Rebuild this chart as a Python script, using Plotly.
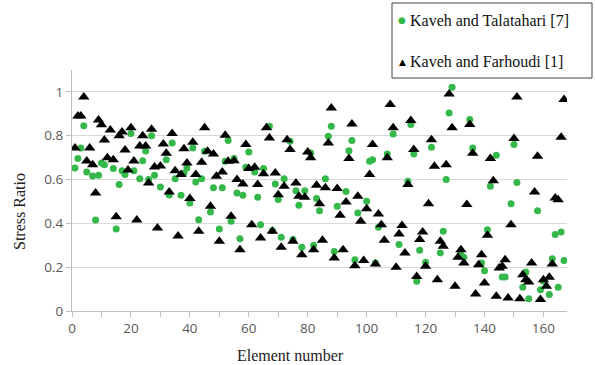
import plotly.graph_objects as go

# Kaveh and Farhoudi [1]: element number and stress ratio
farhoudi_elem = list(range(1, 168))
farhoudi_ratio = [
    0.744, 0.89, 0.89, 0.977, 0.685, 0.744, 0.667, 0.539, 0.872, 0.85,
    0.78, 0.70, 0.826, 0.69, 0.43, 0.80, 0.817, 0.735, 0.644, 0.836,
    0.685, 0.415, 0.753, 0.80, 0.753, 0.584, 0.83, 0.657, 0.379, 0.662,
    0.762, 0.72, 0.543, 0.81, 0.64, 0.342, 0.623, 0.741, 0.676, 0.513,
    0.77, 0.623, 0.364, 0.679, 0.836, 0.729, 0.478, 0.717, 0.615, 0.318,
    0.635, 0.802, 0.683, 0.432, 0.686, 0.60, 0.28, 0.58, 0.76, 0.65,
    0.394, 0.656, 0.577, 0.333, 0.627, 0.836, 0.79, 0.364, 0.63, 0.531,
    0.291, 0.569, 0.782, 0.737, 0.318, 0.584, 0.524, 0.257, 0.519, 0.726,
    0.699, 0.28, 0.574, 0.489, 0.323, 0.562, 0.767, 0.927, 0.242, 0.559,
    0.437, 0.28, 0.498, 0.696, 0.854, 0.207, 0.524, 0.41, 0.23, 0.467,
    0.623, 0.76, 0.215, 0.443, 0.394, 0.323, 0.699, 0.942, 0.836, 0.20,
    0.352, 0.39, 0.265, 0.577, 0.869, 0.737, 0.158, 0.326, 0.361, 0.204,
    0.489, 0.782, 0.661, 0.143, 0.318, 0.295, 0.668, 0.991, 0.836, 0.113,
    0.245, 0.28, 0.219, 0.486, 0.851, 0.72, 0.078, 0.211, 0.257, 0.128,
    0.346, 0.696, 0.595, 0.067, 0.196, 0.204, 0.234, 0.059, 0.394, 0.787,
    0.977, 0.056, 0.166, 0.143, 0.132, 0.219, 0.543, 0.706, 0.052, 0.143,
    0.113, 0.154, 0.215, 0.516, 0.508, 0.793, 0.965,
]

# Kaveh and Talatahari [7]: element number and stress ratio
talatahari_elem = [
    1, 2, 3, 4, 5, 7, 8, 9, 10, 11,
    14, 15, 16, 17, 18, 20, 21, 23, 24, 25,
    26, 27, 28, 30, 32, 33, 34, 35, 37, 38,
    39, 40, 41, 42, 43, 44, 45, 47, 48, 50,
    51, 52, 53, 54, 55, 56, 57, 58, 59, 60,
    62, 63, 64, 65, 67, 68, 69, 70, 71, 72,
    74, 75, 76, 77, 78, 79, 81, 82, 83, 84,
    86, 87, 88, 89, 90, 93, 94, 95, 96, 97,
    100, 101, 102, 103, 104, 107, 109, 111, 114, 115,
    116, 117, 118, 120, 122, 125, 126, 127, 128, 129,
    132, 133, 135, 136, 139, 140, 141, 142, 144, 146,
    147, 149, 150, 151, 153, 154, 155, 158, 159, 160,
    162, 163, 164, 165, 166, 167,
]
talatahari_ratio = [
    0.653, 0.696, 0.744, 0.845, 0.635, 0.616, 0.415, 0.62, 0.676, 0.668,
    0.65, 0.374, 0.577, 0.64, 0.623, 0.81, 0.64, 0.604, 0.686, 0.73,
    0.60, 0.80, 0.62, 0.566, 0.69, 0.53, 0.767, 0.604, 0.528, 0.63,
    0.653, 0.493, 0.744, 0.589, 0.417, 0.604, 0.729, 0.452, 0.562, 0.374,
    0.562, 0.683, 0.778, 0.41, 0.696, 0.539, 0.33, 0.528, 0.656, 0.726,
    0.635, 0.519, 0.394, 0.65, 0.843, 0.367, 0.58, 0.509, 0.337, 0.604,
    0.775, 0.326, 0.549, 0.483, 0.291, 0.549, 0.721, 0.30, 0.513, 0.458,
    0.604, 0.798, 0.843, 0.272, 0.478, 0.546, 0.732, 0.778, 0.234, 0.447,
    0.501, 0.683, 0.69, 0.219, 0.382, 0.717, 0.808, 0.303, 0.592, 0.851,
    0.717, 0.136, 0.277, 0.222, 0.747, 0.265, 0.364, 0.60, 0.904, 1.021,
    0.257, 0.245, 0.874, 0.744, 0.219, 0.184, 0.371, 0.569, 0.711, 0.155,
    0.155, 0.489, 0.76, 0.587, 0.108, 0.178, 0.056, 0.458, 0.097, 0.136,
    0.075, 0.239, 0.349, 0.108, 0.361, 0.23,
]

GREEN = "#35b84a"
SERIF = "Liberation Serif"
SANS = "Open Sans"
AXIS_GREY = "#bfbfbf"
TEXT_GREY = "#595959"

# plot area in pixels: left 72, right 567, top 70, bottom 311
L, R, T, B = 72, 567, 70, 311
W, H = R - L, B - T


def px_x(p):
    return (p - L) / W


def px_y(p):
    return (B - p) / H


fig = go.Figure()
fig.add_trace(go.Scatter(
    x=talatahari_elem, y=talatahari_ratio, mode="markers",
    name="Kaveh and Talatahari [7]",
    marker=dict(color=GREEN, size=7, symbol="circle"),
))
fig.add_trace(go.Scatter(
    x=farhoudi_elem, y=farhoudi_ratio, mode="markers",
    name="Kaveh and Farhoudi [1]",
    marker=dict(color="black", size=10, symbol="triangle-up"),
))

fig.update_layout(
    width=595, height=365,
    margin=dict(l=L, r=595 - R, t=T, b=365 - B),
    paper_bgcolor="white", plot_bgcolor="white",
    showlegend=False,
    xaxis=dict(
        range=[0, 168], tickmode="linear", tick0=0, dtick=20,
        showgrid=False, zeroline=False, automargin=False,
        showline=True, linecolor=AXIS_GREY, linewidth=1,
        ticks="outside", ticklen=5, tickcolor=AXIS_GREY,
        minor=dict(dtick=10, ticks="outside", ticklen=5, tickcolor=AXIS_GREY),
        tickfont=dict(family=SANS, size=13.5, color=TEXT_GREY),
    ),
    yaxis=dict(
        range=[0, 1.1], tickmode="array",
        tickvals=[0, 0.2, 0.4, 0.6, 0.8, 1.0],
        ticktext=["0", "0.2", "0.4", "0.6", "0.8", "1"],
        showgrid=True, gridcolor="#d9d9d9", gridwidth=1,
        zeroline=False, automargin=False,
        showline=True, linecolor=AXIS_GREY, linewidth=1,
        ticks="outside", ticklen=5, tickcolor=AXIS_GREY,
        tickfont=dict(family=SANS, size=13.5, color=TEXT_GREY),
    ),
)

# Axis titles
fig.add_annotation(xref="paper", yref="paper", x=px_x(290), y=px_y(355),
                   text="Element number", showarrow=False,
                   xanchor="center", yanchor="middle",
                   font=dict(family=SERIF, size=16, color="#222"))
fig.add_annotation(xref="paper", yref="paper", x=px_x(19), y=px_y(212),
                   text="Stress Ratio", showarrow=False, textangle=-90,
                   xanchor="center", yanchor="middle",
                   font=dict(family=SERIF, size=16, color="#222"))

# Legend box at the top right
fig.add_shape(type="rect", xref="paper", yref="paper",
              x0=px_x(392), x1=px_x(592), y0=px_y(78), y1=px_y(3),
              line=dict(color="#404040", width=1), fillcolor="white", layer="above")
legend_rows = [
    ("●", GREEN, 9, "Kaveh and Talatahari [7]", 20),
    ("▲", "black", 9, "Kaveh and Farhoudi [1]", 62),
]
for sym, col, ssize, label, ypx in legend_rows:
    fig.add_annotation(xref="paper", yref="paper", x=px_x(402), y=px_y(ypx),
                       text=sym, showarrow=False, xanchor="center", yanchor="middle",
                       font=dict(size=ssize, color=col, family="DejaVu Sans"))
    fig.add_annotation(xref="paper", yref="paper", x=px_x(408), y=px_y(ypx),
                       text=label, showarrow=False, xanchor="left", yanchor="middle",
                       font=dict(size=16, color="#111", family=SERIF))

fig.write_html("out.html")
